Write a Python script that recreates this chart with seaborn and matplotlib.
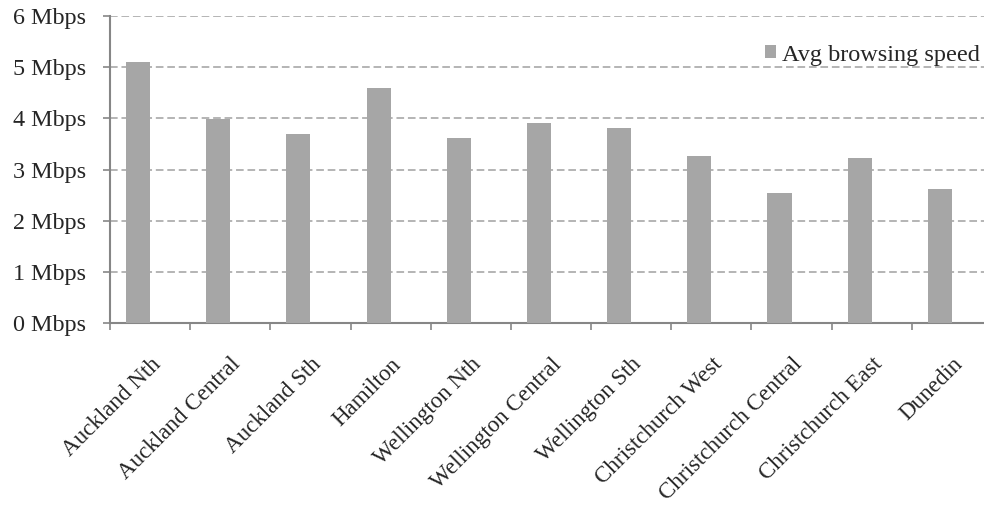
import matplotlib
matplotlib.use("Agg")
import matplotlib.pyplot as plt
import seaborn as sns
import pandas as pd
import numpy as np
from matplotlib.patches import Patch

regions = ["Auckland Nth", "Auckland Central", "Auckland Sth", "Hamilton",
           "Wellington Nth", "Wellington Central", "Wellington Sth",
           "Christchurch West", "Christchurch Central", "Christchurch East", "Dunedin"]
speeds = [5.11, 3.99, 3.69, 4.59, 3.61, 3.91, 3.82, 3.26, 2.54, 3.22, 2.62]
yticks = [0, 1, 2, 3, 4, 5, 6]
ytick_labels = [f"{v} Mbps" for v in yticks]
series_name = "Avg browsing speed"
hidden_series = "(empty series)"

sns.set_style("white")
plt.rcParams['font.family'] = ['Liberation Serif', 'DejaVu Serif']

df = pd.DataFrame({
    "region": regions + regions,
    "speed": speeds + [0.0] * len(regions),
    "series": [series_name] * len(regions) + [hidden_series] * len(regions),
})

W, H = 984, 505
left_px, right_px, top_px, bottom_px = 110, 992, 16, 323.3
fig = plt.figure(figsize=(W / 100, H / 100), dpi=100)
ax = fig.add_axes([left_px / W, 1 - bottom_px / H,
                   (right_px - left_px) / W, (bottom_px - top_px) / H])

bar_color = "#A6A6A6"
sns.barplot(data=df, x="region", y="speed", hue="series",
            hue_order=[series_name, hidden_series],
            palette={series_name: bar_color, hidden_series: (1, 1, 1, 0)},
            width=0.6, gap=0, dodge=True, saturation=1, linewidth=0,
            legend=False, ax=ax, zorder=3)

ax.set_ylim(0, 6)
ax.set_xlim(-0.5, len(regions) - 0.5)
ax.set_yticks(yticks)
ax.set_yticklabels(ytick_labels, fontsize=17.4)
ax.set_xlabel("")
ax.set_ylabel("")

ax.yaxis.grid(True, linestyle=(0, (5, 2.5)), color="#A0A0A0", linewidth=1.1, zorder=0)
ax.xaxis.grid(False)
ax.set_axisbelow(True)

for s in ["top", "right"]:
    ax.spines[s].set_visible(False)
for s in ["left", "bottom"]:
    ax.spines[s].set_color("#868686")
    ax.spines[s].set_linewidth(1.5)

ax.tick_params(axis="y", which="major", left=True, length=5, width=1.2,
               color="#868686", pad=12)
ax.set_xticks(np.arange(len(regions)))
ax.set_xticklabels(regions, rotation=45, ha="right", va="top",
                   rotation_mode="anchor", fontsize=16.6)
ax.tick_params(axis="x", which="major", bottom=False, length=0, pad=22)
ax.set_xticks(np.arange(-0.5, len(regions) + 0.5, 1.0), minor=True)
ax.tick_params(axis="x", which="minor", bottom=True, length=5, width=1.2,
               color="#868686")

handles = [Patch(facecolor=bar_color, edgecolor="none", label=series_name)]
fig.legend(handles=handles, loc="center right", frameon=False, fontsize=17.5,
           handlelength=0.45, handleheight=0.45, handletextpad=0.25,
           bbox_to_anchor=(980 / W, 1 - 55 / H), borderaxespad=0, borderpad=0)

fig.savefig("out.png", dpi=100)
